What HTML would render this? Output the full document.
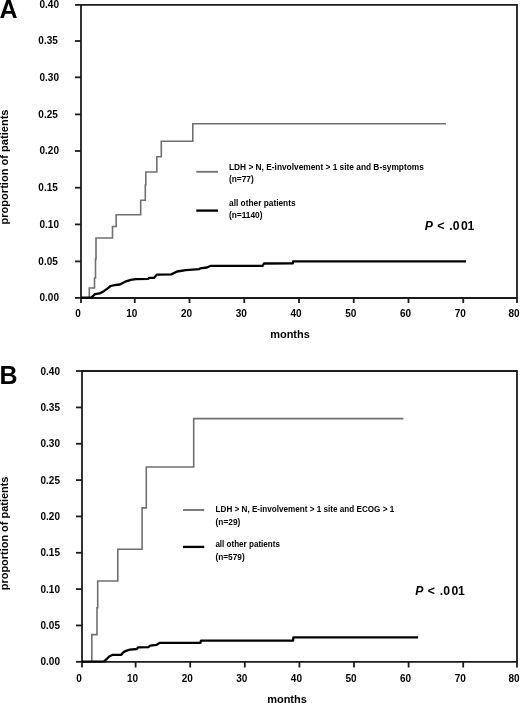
<!DOCTYPE html>
<html><head><meta charset="utf-8"><title>Cumulative incidence</title>
<style>
html,body{margin:0;padding:0;background:#fff;}
svg{display:block;}
text{font-family:"Liberation Sans", Arial, sans-serif;font-weight:bold;fill:#000;}
.tl{font-size:10px;}
.lg{font-size:8.3px;}
.ax{font-size:11px;}
.yl{font-size:11px;}
.pl{font-size:25px;fill:#000;}
.pv{font-size:12.2px;}
</style></head><body>
<svg width="520" height="703" viewBox="0 0 520 703">
<rect width="520" height="703" fill="#fff"/>
<text x="-0.5" y="17.6" class="pl">A</text>
<text transform="translate(8.3,167) rotate(-90)" text-anchor="middle" class="yl" textLength="115" lengthAdjust="spacingAndGlyphs">proportion of patients</text>
<path d="M81,4.9 H517 V298 H81 Z" fill="none" stroke="#1c1c1c" stroke-width="1.8"/>
<line x1="75" y1="297.9" x2="81" y2="297.9" stroke="#1c1c1c" stroke-width="1.8"/>
<line x1="75" y1="261.4" x2="81" y2="261.4" stroke="#1c1c1c" stroke-width="1.8"/>
<line x1="75" y1="224.4" x2="81" y2="224.4" stroke="#1c1c1c" stroke-width="1.8"/>
<line x1="75" y1="187.7" x2="81" y2="187.7" stroke="#1c1c1c" stroke-width="1.8"/>
<line x1="75" y1="151" x2="81" y2="151" stroke="#1c1c1c" stroke-width="1.8"/>
<line x1="75" y1="114.4" x2="81" y2="114.4" stroke="#1c1c1c" stroke-width="1.8"/>
<line x1="75" y1="77.3" x2="81" y2="77.3" stroke="#1c1c1c" stroke-width="1.8"/>
<line x1="75" y1="41" x2="81" y2="41" stroke="#1c1c1c" stroke-width="1.8"/>
<line x1="75" y1="4.9" x2="81" y2="4.9" stroke="#1c1c1c" stroke-width="1.8"/>
<line x1="81" y1="298" x2="81" y2="303" stroke="#1c1c1c" stroke-width="1.8"/>
<line x1="134.75" y1="298" x2="134.75" y2="303" stroke="#1c1c1c" stroke-width="1.8"/>
<line x1="189.5" y1="298" x2="189.5" y2="303" stroke="#1c1c1c" stroke-width="1.8"/>
<line x1="244.25" y1="298" x2="244.25" y2="303" stroke="#1c1c1c" stroke-width="1.8"/>
<line x1="299" y1="298" x2="299" y2="303" stroke="#1c1c1c" stroke-width="1.8"/>
<line x1="353.75" y1="298" x2="353.75" y2="303" stroke="#1c1c1c" stroke-width="1.8"/>
<line x1="408.5" y1="298" x2="408.5" y2="303" stroke="#1c1c1c" stroke-width="1.8"/>
<line x1="463.25" y1="298" x2="463.25" y2="303" stroke="#1c1c1c" stroke-width="1.8"/>
<line x1="517" y1="298" x2="517" y2="303" stroke="#1c1c1c" stroke-width="1.8"/>
<text x="59" y="301.1" text-anchor="end" class="tl">0.00</text>
<text x="57.8" y="264.6" text-anchor="end" class="tl">0.05</text>
<text x="59" y="227.6" text-anchor="end" class="tl">0.10</text>
<text x="57.8" y="190.9" text-anchor="end" class="tl">0.15</text>
<text x="59" y="154.2" text-anchor="end" class="tl">0.20</text>
<text x="57.8" y="117.6" text-anchor="end" class="tl">0.25</text>
<text x="59" y="80.5" text-anchor="end" class="tl">0.30</text>
<text x="57.8" y="44.2" text-anchor="end" class="tl">0.35</text>
<text x="59" y="8.1" text-anchor="end" class="tl">0.40</text>
<text x="78" y="316.5" text-anchor="middle" class="tl">0</text>
<text x="131.75" y="316.5" text-anchor="middle" class="tl">10</text>
<text x="186.5" y="316.5" text-anchor="middle" class="tl">20</text>
<text x="241.25" y="316.5" text-anchor="middle" class="tl">30</text>
<text x="296" y="316.5" text-anchor="middle" class="tl">40</text>
<text x="350.75" y="316.5" text-anchor="middle" class="tl">50</text>
<text x="405.5" y="316.5" text-anchor="middle" class="tl">60</text>
<text x="460.25" y="316.5" text-anchor="middle" class="tl">70</text>
<text x="514" y="316.5" text-anchor="middle" class="tl">80</text>
<text x="290" y="337.5" text-anchor="middle" class="ax">months</text>
<polyline points="89.3,298 89.3,288 94.5,288 94.5,278 95.5,278 95.5,259 96,259 96,238 112.5,238 112.5,226.5 116.2,226.5 116.2,214.8 140.7,214.8 140.7,200.3 145.3,200.3 145.3,185 145.8,185 145.8,172 156.8,172 156.8,156.7 161.3,156.7 161.3,141.3 192.8,141.3 192.8,123.8 446,123.8" fill="none" stroke="#707070" stroke-width="1.6" stroke-linejoin="miter"/>
<polyline points="81,297.6 91.5,297.4 95,294.2 99.6,293.4 104.2,290.9 107.7,288.3 110.6,286 114.6,285.1 119.8,284.5 126.1,281.3 130.7,279.8 135.8,279.2 148.3,278.8 149.2,277.9 154,277.9 157,274.6 171.3,274.4 177.1,271.5 185.8,270.2 199.2,269.2 200.2,268.3 206.9,267.5 210.8,265.8 262.7,265.8 264,263.5 292.9,263.3 293.2,261.4 466,261.4" fill="none" stroke="#000" stroke-width="2.3" stroke-linejoin="round"/>
<line x1="196.3" y1="171.8" x2="218" y2="171.8" stroke="#707070" stroke-width="1.8"/>
<line x1="196.3" y1="210.6" x2="218" y2="210.6" stroke="#000" stroke-width="2.3"/>
<text x="229" y="170.2" class="lg" textLength="194.8" lengthAdjust="spacingAndGlyphs">LDH &gt; N, E-involvement &gt; 1 site and B-symptoms</text>
<text x="229" y="182.3" class="lg">(n=77)</text>
<text x="229" y="205.8" class="lg" textLength="66.6" lengthAdjust="spacingAndGlyphs">all other patients</text>
<text x="229" y="217.7" class="lg">(n=1140)</text>
<text y="229.6" class="pv" x="424.8 437.25 441 449.35 452.65 461.05 467.6"><tspan font-style="italic">P</tspan>&lt; .001</text>
<text x="-0.5" y="383.7" class="pl">B</text>
<text transform="translate(8.1,533.4) rotate(-90)" text-anchor="middle" class="yl" textLength="113.7" lengthAdjust="spacingAndGlyphs">proportion of patients</text>
<path d="M82,371 H517 V661.8 H82 Z" fill="none" stroke="#1c1c1c" stroke-width="1.8"/>
<line x1="76" y1="661.8" x2="82" y2="661.8" stroke="#1c1c1c" stroke-width="1.8"/>
<line x1="76" y1="625.46" x2="82" y2="625.46" stroke="#1c1c1c" stroke-width="1.8"/>
<line x1="76" y1="589.12" x2="82" y2="589.12" stroke="#1c1c1c" stroke-width="1.8"/>
<line x1="76" y1="552.78" x2="82" y2="552.78" stroke="#1c1c1c" stroke-width="1.8"/>
<line x1="76" y1="516.44" x2="82" y2="516.44" stroke="#1c1c1c" stroke-width="1.8"/>
<line x1="76" y1="480.1" x2="82" y2="480.1" stroke="#1c1c1c" stroke-width="1.8"/>
<line x1="76" y1="443.76" x2="82" y2="443.76" stroke="#1c1c1c" stroke-width="1.8"/>
<line x1="76" y1="407.42" x2="82" y2="407.42" stroke="#1c1c1c" stroke-width="1.8"/>
<line x1="76" y1="371" x2="82" y2="371" stroke="#1c1c1c" stroke-width="1.8"/>
<line x1="82" y1="661.8" x2="82" y2="667.5" stroke="#1c1c1c" stroke-width="1.8"/>
<line x1="135.6" y1="661.8" x2="135.6" y2="667.5" stroke="#1c1c1c" stroke-width="1.8"/>
<line x1="190.2" y1="661.8" x2="190.2" y2="667.5" stroke="#1c1c1c" stroke-width="1.8"/>
<line x1="244.8" y1="661.8" x2="244.8" y2="667.5" stroke="#1c1c1c" stroke-width="1.8"/>
<line x1="299.4" y1="661.8" x2="299.4" y2="667.5" stroke="#1c1c1c" stroke-width="1.8"/>
<line x1="354" y1="661.8" x2="354" y2="667.5" stroke="#1c1c1c" stroke-width="1.8"/>
<line x1="408.6" y1="661.8" x2="408.6" y2="667.5" stroke="#1c1c1c" stroke-width="1.8"/>
<line x1="463.2" y1="661.8" x2="463.2" y2="667.5" stroke="#1c1c1c" stroke-width="1.8"/>
<line x1="517" y1="661.8" x2="517" y2="667.5" stroke="#1c1c1c" stroke-width="1.8"/>
<text x="60" y="665.3" text-anchor="end" class="tl">0.00</text>
<text x="60" y="628.96" text-anchor="end" class="tl">0.05</text>
<text x="60" y="592.62" text-anchor="end" class="tl">0.10</text>
<text x="60" y="556.28" text-anchor="end" class="tl">0.15</text>
<text x="60" y="519.94" text-anchor="end" class="tl">0.20</text>
<text x="60" y="483.6" text-anchor="end" class="tl">0.25</text>
<text x="60" y="447.26" text-anchor="end" class="tl">0.30</text>
<text x="60" y="410.92" text-anchor="end" class="tl">0.35</text>
<text x="60" y="374.5" text-anchor="end" class="tl">0.40</text>
<text x="79" y="681.5" text-anchor="middle" class="tl">0</text>
<text x="132.6" y="681.5" text-anchor="middle" class="tl">10</text>
<text x="187.2" y="681.5" text-anchor="middle" class="tl">20</text>
<text x="241.8" y="681.5" text-anchor="middle" class="tl">30</text>
<text x="296.4" y="681.5" text-anchor="middle" class="tl">40</text>
<text x="351" y="681.5" text-anchor="middle" class="tl">50</text>
<text x="405.6" y="681.5" text-anchor="middle" class="tl">60</text>
<text x="460.2" y="681.5" text-anchor="middle" class="tl">70</text>
<text x="514" y="681.5" text-anchor="middle" class="tl">80</text>
<text x="287" y="702.5" text-anchor="middle" class="ax">months</text>
<polyline points="91.8,662 91.8,634.6 97,634.6 97,607.8 97.7,607.8 97.7,581 117.8,581 117.8,549.2 142.1,549.2 142.1,507.9 146.3,507.9 146.3,467 193.7,467 193.7,418.6 403.4,418.6" fill="none" stroke="#707070" stroke-width="1.6"/>
<polyline points="82,661.6 104,661.4 106.9,658.8 109.2,656.5 112.7,654.8 121.3,654.8 123.1,652.5 126,650.8 130,649.6 136.9,649 138,647.3 148.4,647.1 150.2,645.6 156.7,644.8 159.6,642.9 200.4,642.9 201,640.6 293.1,640.6 293.4,637.3 418.1,637.3" fill="none" stroke="#000" stroke-width="2.3" stroke-linejoin="round"/>
<line x1="183" y1="510" x2="204.2" y2="510" stroke="#707070" stroke-width="1.8"/>
<line x1="183" y1="546.9" x2="204.2" y2="546.9" stroke="#000" stroke-width="2.3"/>
<text x="215.6" y="511.9" class="lg" textLength="178.6" lengthAdjust="spacingAndGlyphs">LDH &gt; N, E-involvement &gt; 1 site and ECOG &gt; 1</text>
<text x="215.6" y="524.5" class="lg">(n=29)</text>
<text x="215.4" y="547.2" class="lg" textLength="64.5" lengthAdjust="spacingAndGlyphs">all other patients</text>
<text x="215.4" y="559.9" class="lg">(n=579)</text>
<text y="595" class="pv" x="415.3 427.75 431.5 439.85 443.15 451.55 458.1"><tspan font-style="italic">P</tspan>&lt; .001</text>
</svg></body></html>
